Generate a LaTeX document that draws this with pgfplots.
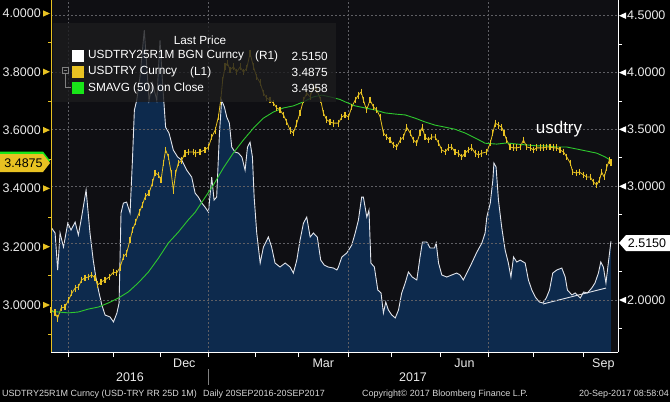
\documentclass[border=0pt]{standalone}
\usepackage{pgfplots}
\pgfplotsset{compat=1.18}
\usepackage{pgfplotstable}
\usepackage{fontspec}
\setmainfont{Liberation Sans}

\definecolor{ylw}{RGB}{232,194,34}
\definecolor{grn}{RGB}{46,200,46}
\definecolor{grnbox}{RGB}{25,230,25}
\definecolor{navy}{RGB}{13,42,77}
\definecolor{plotbg}{RGB}{15,15,19}
\definecolor{gridc}{RGB}{95,95,100}
\definecolor{txt}{RGB}{235,235,235}
\definecolor{rrline}{RGB}{225,228,235}
\definecolor{foot}{RGB}{215,215,215}

% x = trading day counted from 20 Sep 2016
% USDTRY25R1M BGN Curncy, 1M 25D risk reversal (right axis)
\pgfplotstableread{
i v
1.1 2.641
3.0 2.589
4.2 2.264
5.3 2.589
6.9 2.466
8.9 2.677
10.4 2.615
12.3 2.685
13.8 2.571
15.3 2.729
17.4 2.967
19.2 2.589
20.7 2.351
21.9 2.202
23.1 2.088
24.7 1.956
26.2 1.868
28.5 1.851
30.1 1.807
31.7 1.886
32.7 1.974
33.6 2.765
34.7 2.852
36.2 2.861
37.8 2.765
38.9 3.230
39.8 3.670
40.9 3.757
42.4 3.960
44.4 4.373
45.6 4.047
46.6 3.757
48.2 3.907
50.2 3.757
51.7 4.285
52.8 3.933
54.3 3.520
55.9 3.467
57.9 3.318
59.9 3.257
61.8 3.230
64.1 3.142
66.4 3.081
68.0 2.940
69.5 2.905
71.1 2.852
72.6 2.817
74.2 2.773
75.7 3.081
76.8 2.879
78.0 2.905
79.3 3.467
80.3 3.757
81.6 3.696
82.7 3.608
83.9 3.555
85.0 3.344
86.5 3.301
88.1 3.292
89.7 3.257
91.2 3.142
92.3 3.344
93.5 3.388
94.6 3.257
95.4 2.905
96.6 2.589
98.2 2.325
99.7 2.466
102.0 2.554
103.5 2.466
105.1 2.325
107.4 2.290
109.8 2.325
112.1 2.290
113.6 2.237
115.2 2.351
116.7 2.527
118.3 2.677
119.8 2.729
121.4 2.554
122.9 2.589
124.7 2.554
126.3 2.351
127.9 2.308
129.8 2.290
132.2 2.281
133.8 2.264
134.5 2.290
136.1 2.378
138.4 2.413
140.7 2.483
142.3 2.589
143.8 2.703
145.3 2.905
146.1 2.905
147.7 2.729
148.7 2.791
149.6 2.325
151.2 2.290
152.8 2.088
154.3 2.062
155.4 1.886
156.5 1.982
157.7 1.912
159.3 1.868
160.9 1.842
162.4 1.912
163.9 2.062
165.5 2.149
167.0 2.246
168.8 2.202
170.9 2.176
172.4 2.378
173.5 2.510
175.5 2.510
177.1 2.457
179.1 2.457
179.9 2.501
181.0 2.325
182.5 2.220
184.8 2.202
187.1 2.220
189.4 2.237
191.0 2.220
192.5 2.176
194.1 2.237
196.4 2.325
198.8 2.422
201.1 2.501
202.6 2.589
203.4 2.729
205.0 2.852
206.2 3.054
206.7 3.204
207.7 3.169
208.8 2.879
210.3 2.641
211.9 2.439
213.4 2.325
214.6 2.202
215.8 2.378
217.3 2.334
218.9 2.351
221.2 2.325
222.7 2.176
224.3 2.088
225.9 2.026
227.8 1.982
229.4 1.974
231.0 2.018
232.5 2.088
234.0 2.237
235.9 2.264
238.2 2.281
239.8 2.202
240.8 2.088
242.9 2.044
244.4 2.062
246.8 2.018
248.3 2.070
250.1 2.062
252.1 2.105
253.6 2.149
255.2 2.237
256.3 2.334
257.5 2.290
258.7 2.149
259.8 2.325
261.0 2.515
}\rrdata

% USDTRY Curncy (left axis)
\pgfplotstableread{
i v
1.1 2.983
3.0 2.973
4.2 2.955
5.8 2.990
7.6 2.993
9.2 3.017
10.8 3.041
12.3 3.058
13.8 3.062
15.3 3.086
16.9 3.093
18.4 3.096
20.0 3.103
21.5 3.093
22.8 3.069
24.3 3.079
26.2 3.086
28.1 3.096
30.1 3.113
31.6 3.110
33.2 3.130
34.7 3.165
36.2 3.178
37.8 3.223
38.9 3.257
40.4 3.285
42.0 3.316
43.5 3.343
44.8 3.371
46.6 3.384
48.2 3.419
49.4 3.453
51.0 3.446
52.2 3.429
53.3 3.487
54.3 3.532
55.6 3.508
56.9 3.453
57.9 3.394
59.0 3.453
60.2 3.487
61.8 3.497
63.3 3.521
64.9 3.525
67.2 3.525
68.0 3.521
70.3 3.525
72.6 3.532
74.2 3.542
75.7 3.576
77.3 3.600
78.8 3.645
79.9 3.703
80.8 3.772
81.9 3.817
83.0 3.830
84.2 3.806
85.8 3.817
87.3 3.799
88.9 3.817
90.4 3.799
92.0 3.813
93.5 3.864
95.1 3.817
96.6 3.782
98.2 3.762
99.7 3.727
101.2 3.710
102.8 3.703
104.3 3.693
105.9 3.676
107.4 3.669
109.0 3.652
110.5 3.628
112.1 3.600
113.6 3.590
115.2 3.624
116.7 3.659
118.3 3.703
119.8 3.727
121.4 3.714
122.9 3.748
124.4 3.738
126.3 3.703
127.5 3.659
129.1 3.635
130.6 3.628
132.2 3.624
134.5 3.624
136.1 3.645
137.6 3.652
139.2 3.645
140.7 3.679
142.3 3.703
143.8 3.720
145.1 3.731
146.1 3.703
147.6 3.669
149.2 3.703
150.8 3.679
152.3 3.669
153.9 3.645
155.4 3.590
157.0 3.576
158.5 3.566
160.1 3.549
161.6 3.542
163.2 3.566
164.7 3.576
166.2 3.610
167.8 3.590
169.3 3.566
170.9 3.556
172.4 3.590
173.5 3.610
174.7 3.576
176.3 3.566
177.9 3.576
179.4 3.576
181.0 3.556
182.5 3.532
184.1 3.525
185.6 3.539
187.1 3.542
188.6 3.525
190.2 3.521
191.8 3.508
193.3 3.521
194.9 3.532
196.4 3.539
198.0 3.521
199.5 3.515
201.1 3.521
203.4 3.525
205.0 3.556
206.2 3.590
207.3 3.624
208.8 3.617
210.3 3.610
211.4 3.590
212.6 3.566
214.2 3.542
215.7 3.539
217.3 3.539
218.9 3.542
220.4 3.566
222.0 3.542
223.5 3.539
225.1 3.532
226.6 3.539
228.2 3.539
229.7 3.539
231.2 3.542
232.7 3.542
234.3 3.539
235.9 3.539
237.4 3.532
239.0 3.525
240.5 3.508
242.1 3.487
243.3 3.456
244.9 3.453
246.4 3.456
248.3 3.446
249.8 3.439
251.4 3.439
252.9 3.422
254.4 3.412
255.7 3.429
256.7 3.456
257.9 3.439
259.1 3.473
260.3 3.497
261.0 3.4875
}\spotdata

% SMAVG (50) on Close (left axis)
\pgfplotstableread{
i v
1.1 2.979
4.5 2.976
9.2 2.973
13.8 2.976
18.4 2.986
23.1 2.993
27.7 3.007
32.4 3.024
37.0 3.045
41.6 3.076
46.3 3.113
51.0 3.161
55.6 3.213
60.2 3.250
64.8 3.292
68.0 3.318
71.8 3.360
76.5 3.412
81.1 3.470
85.7 3.521
90.4 3.566
95.1 3.607
99.7 3.641
104.3 3.662
109.0 3.676
113.6 3.683
118.3 3.697
122.9 3.714
126.8 3.720
130.6 3.714
135.3 3.705
137.6 3.697
142.3 3.683
146.9 3.676
151.5 3.669
156.2 3.659
160.9 3.655
165.5 3.652
170.1 3.641
174.7 3.628
179.4 3.617
184.1 3.610
188.6 3.603
193.3 3.590
198.0 3.573
202.6 3.555
208.0 3.552
212.7 3.556
217.3 3.552
222.0 3.549
226.6 3.546
231.2 3.546
235.9 3.542
240.5 3.542
245.2 3.535
249.8 3.528
254.4 3.521
258.3 3.508
261.0 3.4958
}\smadata

\begin{document}
\begin{tikzpicture}[x=1bp,y=1bp]
\fill[black] (0,0) rectangle (670,402);
\useasboundingbox (0,0) rectangle (670,402);

% right axis: risk reversal
\begin{axis}[
  at={(51bp,50bp)}, anchor=south west, scale only axis,
  width=567bp, height=352bp,
  xmin=1.1, xmax=264.3, ymin=1.5427, ymax=4.638,
  axis on top,
  axis background/.style={fill=plotbg},
  axis x line*=bottom, axis y line*=right,
  axis line style={draw=white, line width=0.9bp},
  tick align=outside,
  major tick length=5bp, minor tick length=4bp,
  xtick={9,30,52,74,96,116,139,159,182,204,225,248}, xticklabels={},
  every major x tick/.append style={draw=white, line width=0.8bp},
  extra x ticks={9,74,139,204}, extra x tick labels={},
  extra x tick style={grid=major},
  ytick={2,2.5,3,3.5,4,4.5},
  yticklabels={2.0000,,3.0000,3.5000,4.0000,4.5000},
  every major y tick/.append style={draw=none},
  minor ytick={1.75,2.25,2.75,3.25,3.75,4.25},
  every minor tick/.append style={draw=white, line width=0.8bp},
  ymajorgrids,
  major grid style={gridc, line width=0.6bp, dash pattern=on 2bp off 2bp},
  yticklabel style={anchor=west, inner sep=0pt, xshift=4bp},
  tick label style={font=\fontsize{12.5bp}{14bp}\selectfont, text=txt},
]
\addplot[draw=none, fill=navy] table[x=i, y=v] {\rrdata} \closedcycle;
\addplot[rrline, line width=0.9bp] table[x=i, y=v] {\rrdata};
\addplot[rrline, line width=0.9bp] coordinates {(229.5,1.965) (258.7,2.105)};
\end{axis}

% left axis: USDTRY and its 50-day average
\begin{axis}[
  at={(51bp,50bp)}, anchor=south west, scale only axis,
  width=567bp, height=352bp,
  xmin=1.1, xmax=264.3, ymin=2.8388, ymax=4.0463,
  axis x line*=bottom, axis y line*=left,
  x axis line style={draw=none},
  y axis line style={draw=ylw, line width=0.9bp},
  tick align=outside, major tick length=0pt, minor tick length=3bp,
  xtick={63,127.5,193,257.5}, xticklabels={Dec,Mar,Jun,Sep},
  xticklabel style={anchor=base, inner sep=0pt, yshift=-15bp},
  ytick={3.0,3.2,3.4,3.6,3.8,4.0},
  yticklabels={3.0000,3.2000,3.4000,3.6000,3.8000,4.0000},
  yticklabel style={anchor=east, inner sep=0pt, xshift=-10bp},
  minor ytick={2.9,3.1,3.3,3.5,3.7,3.9},
  every minor tick/.append style={draw=ylw, line width=0.8bp},
  tick label style={font=\fontsize{12.5bp}{14bp}\selectfont, text=txt},
]
\addplot[ylw, line width=0.8bp, mark=|, mark size=3.4bp,
  mark options={line width=1.2bp}] table[x=i, y=v] {\spotdata};
\addplot[grn, line width=0.9bp] table[x=i, y=v] {\smadata};
\end{axis}

% tick pointers
\foreach \yy in {388.5,330.2,271.9,213.6,155.3,97.0}
  \fill[ylw] (50,\yy) -- (43,\yy+3.2) -- (43,\yy-3.2) -- cycle;
\foreach \yy in {102,215.7,272.6,329.4,386.3}
  \fill[white] (619,\yy) -- (626,\yy+3.2) -- (626,\yy-3.2) -- cycle;

% last value boxes
\fill[grnbox] (0,232.5) -- (43,232.5) -- (50,241.5) -- (43,250.5) -- (0,250.5) -- cycle;
\fill[ylw] (0,230) -- (43,230) -- (50,239) -- (43,248) -- (0,248) -- cycle;
\node[text=black, font=\fontsize{12.5bp}{14bp}\selectfont] at (23.5,239) {3.4875};
\fill[white] (619,159) -- (626,167) -- (670,167) -- (670,151) -- (626,151) -- cycle;
\node[text=black, font=\fontsize{12.5bp}{14bp}\selectfont] at (647,159) {2.5150};

% legend
\fill[fill={rgb,255:red,28;green,28;blue,30}, fill opacity=0.8] (53,300) rectangle (336,379);
\begin{scope}[font=\fontsize{11.8bp}{13bp}\selectfont, text=white]
\node at (200,362) {Last Price};
\fill[white] (72,340) rectangle (84,352);
\fill[ylw] (72,324) rectangle (84,336);
\fill[grnbox] (72,308) rectangle (84,320);
\node[anchor=west, inner sep=0pt] at (88,346) {USDTRY25R1M BGN Curncy};
\node[anchor=west, inner sep=0pt] at (255,346) {(R1)};
\node[anchor=west, inner sep=0pt] at (88,330) {USDTRY Curncy};
\node[anchor=west, inner sep=0pt] at (190,330) {(L1)};
\node[anchor=west, inner sep=0pt] at (88,314) {SMAVG (50) on Close};
\node[anchor=east, inner sep=0pt] at (328,346) {2.5150};
\node[anchor=east, inner sep=0pt] at (328,330) {3.4875};
\node[anchor=east, inner sep=0pt] at (328,314) {3.4958};
\end{scope}
\draw[gray, line width=0.5bp] (62.7,328.3) rectangle (68.7,334.3);
\draw[gray, line width=0.5bp] (64,331.3) -- (67.4,331.3);
\draw[gray, line width=0.5bp] (65.7,328.3) -- (65.7,314.7) -- (70.7,314.7);

% annotation
\node[text=white, font=\fontsize{17bp}{19bp}\selectfont] at (559,273) {usdtry};

% years
\begin{scope}[font=\fontsize{12.5bp}{14bp}\selectfont, text=txt]
\node at (130,24.5) {2016};
\node at (413,24.5) {2017};
\end{scope}
\draw[gray, line width=0.8bp] (208,33) -- (208,17);

% footer
\begin{scope}[font=\fontsize{9bp}{10bp}\selectfont, text=foot]
\node[anchor=west, inner sep=0pt] at (2,8) {USDTRY25R1M Curncy (USD-TRY RR 25D 1M)};
\node[anchor=west, inner sep=0pt] at (203,8) {Daily 20SEP2016-20SEP2017};
\node[anchor=west, inner sep=0pt] at (362,8) {Copyright© 2017 Bloomberg Finance L.P.};
\node[anchor=east, inner sep=0pt] at (669,8) {20-Sep-2017 08:58:04};
\end{scope}
\end{tikzpicture}
\end{document}
